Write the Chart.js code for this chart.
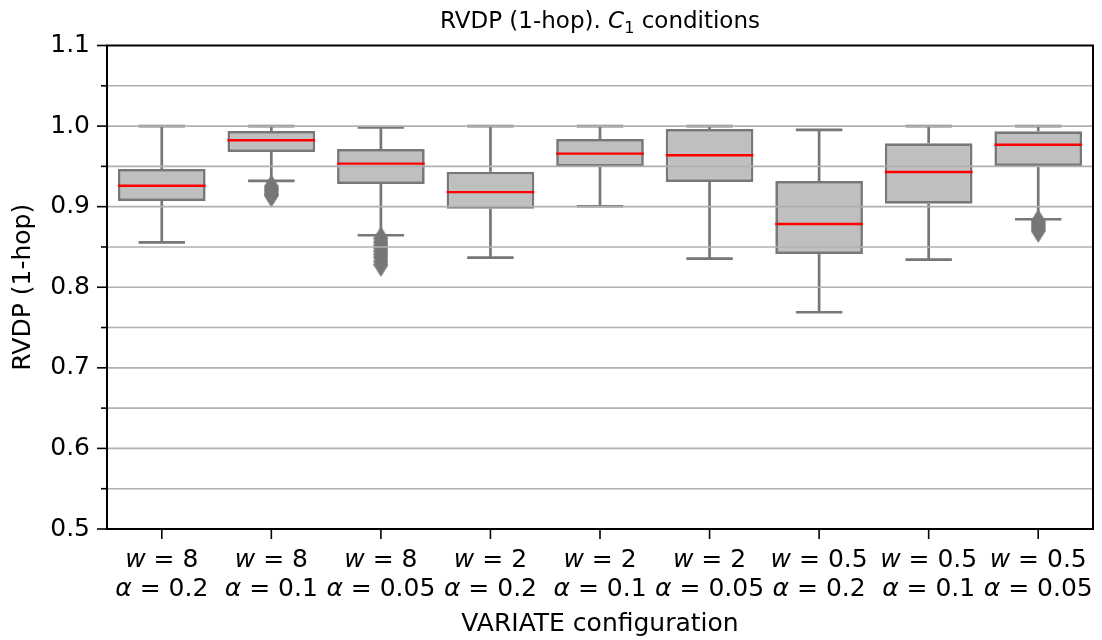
<!DOCTYPE html>
<html>
<head>
<meta charset="utf-8">
<script src="https://cdn.jsdelivr.net/npm/chart.js@4.4.1/dist/chart.umd.min.js"></script>
<style>
  html, body { margin: 0; padding: 0; background: #fff; }
  #wrap { width: 1102px; height: 640px; }
</style>
</head>
<body>
<div id="wrap"><canvas id="chart" width="1102" height="640"></canvas></div>
<script>
// categories
const wValues = ['8', '8', '8', '2', '2', '2', '0.5', '0.5', '0.5'];
const alphaValues = ['0.2', '0.1', '0.05', '0.2', '0.1', '0.05', '0.2', '0.1', '0.05'];

// box statistics
const whiskerLow  = [0.8558, 0.9319, 0.8645, 0.8367, 0.9005, 0.8355, 0.769, 0.8342, 0.8844];
const q1          = [0.907, 0.9679, 0.9282, 0.8975, 0.9496, 0.9306, 0.8413, 0.9037, 0.9505];
const median      = [0.926, 0.9824, 0.9534, 0.918, 0.9658, 0.9638, 0.8785, 0.943, 0.9769];
const q3          = [0.9468, 0.9939, 0.9716, 0.9434, 0.984, 0.9964, 0.9319, 0.9787, 0.9935];
const whiskerHigh = [1.0, 1.0, 0.9985, 1.0, 1.0, 1.0, 0.9952, 1.0, 1.0];

// outliers (box index, value)
const outlierBox   = [1, 1, 1, 1, 1, 2, 2, 2, 2, 2, 2, 2, 2, 2, 8, 8, 8, 8, 8];
const outlierValue = [0.925, 0.922, 0.919, 0.916, 0.914,
                      0.8606, 0.856, 0.852, 0.849, 0.845, 0.841, 0.837, 0.832, 0.8277,
                      0.882, 0.879, 0.876, 0.873, 0.870];

// y ticks
const yMin = 0.5, yMax = 1.1, yStep = 0.05;

const labels = wValues.map((w, i) => 'w = ' + w + ', α = ' + alphaValues[i]);
const EDGE = '#777777';
const FONT = 'DejaVu Sans';
const FS = 25;

// thin diamond marker
const diamond = document.createElement('canvas');
diamond.width = 15; diamond.height = 24;
(function () {
  const c = diamond.getContext('2d');
  c.fillStyle = EDGE;
  c.beginPath();
  c.moveTo(7.5, 0); c.lineTo(15, 12); c.lineTo(7.5, 24); c.lineTo(0, 12);
  c.closePath(); c.fill();
})();

function isMajor(v) { return Math.abs(v * 10 - Math.round(v * 10)) < 1e-6; }

const boxPlugin = {
  id: 'boxParts',
  afterDatasetsDraw(chart) {
    const ctx = chart.ctx, y = chart.scales.y;
    const meta = chart.getDatasetMeta(0);
    ctx.save();
    meta.data.forEach((bar, i) => {
      const cx = bar.x, half = bar.width / 2, cap = bar.width * 0.265;
      ctx.strokeStyle = EDGE; ctx.lineWidth = 2.7; ctx.lineCap = 'butt';
      ctx.beginPath();
      ctx.moveTo(cx, y.getPixelForValue(q3[i])); ctx.lineTo(cx, y.getPixelForValue(whiskerHigh[i]));
      ctx.moveTo(cx, y.getPixelForValue(q1[i])); ctx.lineTo(cx, y.getPixelForValue(whiskerLow[i]));
      ctx.moveTo(cx - cap, y.getPixelForValue(whiskerHigh[i])); ctx.lineTo(cx + cap, y.getPixelForValue(whiskerHigh[i]));
      ctx.moveTo(cx - cap, y.getPixelForValue(whiskerLow[i])); ctx.lineTo(cx + cap, y.getPixelForValue(whiskerLow[i]));
      ctx.stroke();
      ctx.strokeStyle = '#ff0000'; ctx.lineWidth = 2.4;
      ctx.beginPath();
      ctx.moveTo(cx - half, y.getPixelForValue(median[i])); ctx.lineTo(cx + half, y.getPixelForValue(median[i]));
      ctx.stroke();
    });
    ctx.restore();
  },
  afterDraw(chart) {
    const ctx = chart.ctx, x = chart.scales.x, y = chart.scales.y, a = chart.chartArea;
    ctx.save();
    // grid on top of the boxes
    ctx.strokeStyle = '#b0b0b0'; ctx.lineWidth = 1.6;
    y.ticks.forEach(t => {
      if (t.value <= yMin + 1e-6 || t.value >= yMax - 1e-6) return;
      const py = y.getPixelForValue(t.value);
      ctx.beginPath(); ctx.moveTo(a.left, py); ctx.lineTo(a.right, py); ctx.stroke();
    });
    // tick marks
    ctx.strokeStyle = '#000'; ctx.lineWidth = 1.6;
    y.ticks.forEach(t => {
      const py = y.getPixelForValue(t.value);
      const len = isMajor(t.value) ? 10 : 6;
      ctx.beginPath(); ctx.moveTo(a.left - len, py); ctx.lineTo(a.left, py); ctx.stroke();
    });
    x.ticks.forEach((t, i) => {
      const px = x.getPixelForTick(i);
      ctx.beginPath(); ctx.moveTo(px, a.bottom); ctx.lineTo(px, a.bottom + 10); ctx.stroke();
    });
    // spines
    ctx.lineWidth = 2;
    ctx.strokeRect(a.left, a.top, a.right - a.left, a.bottom - a.top);

    // x tick labels with italic symbols
    ctx.fillStyle = '#000'; ctx.textBaseline = 'alphabetic';
    function mixed(parts, cx, by) {
      let total = 0;
      parts.forEach(p => { ctx.font = p[1]; total += ctx.measureText(p[0]).width; });
      let px = cx - total / 2;
      ctx.textAlign = 'left';
      parts.forEach(p => { ctx.font = p[1]; ctx.fillText(p[0], px, by); px += ctx.measureText(p[0]).width; });
    }
    const reg = FS + 'px "' + FONT + '"', ita = 'italic ' + FS + 'px "' + FONT + '"';
    x.ticks.forEach((t, i) => {
      const px = x.getPixelForTick(i);
      mixed([['w', ita], [' = ' + wValues[i], reg]], px, 567);
      mixed([['α', ita], [' = ' + alphaValues[i], reg]], px, 596);
    });

    // title with italic C and subscript 1
    const tReg = '23px "' + FONT + '"', tIta = 'italic 23px "' + FONT + '"', tSub = '16px "' + FONT + '"';
    const parts = [['RVDP (1-hop). ', tReg, 0], ['C', tIta, 0], ['1', tSub, 5], [' conditions', tReg, 0]];
    let total = 0;
    parts.forEach(p => { ctx.font = p[1]; total += ctx.measureText(p[0]).width; });
    let px = (a.left + a.right) / 2 - total / 2;
    ctx.textAlign = 'left';
    parts.forEach(p => { ctx.font = p[1]; ctx.fillText(p[0], px, 28 + p[2]); px += ctx.measureText(p[0]).width; });
    ctx.restore();
  }
};

new Chart(document.getElementById('chart'), {
  type: 'bar',
  data: {
    labels: labels,
    datasets: [
      {
        label: 'box',
        data: q1.map((v, i) => [v, q3[i]]),
        backgroundColor: '#bfbfbf',
        borderColor: EDGE,
        borderWidth: 2.7,
        borderSkipped: false,
        barPercentage: 0.8,
        categoryPercentage: 1.0,
        order: 2
      },
      {
        type: 'scatter',
        label: 'outliers',
        data: outlierBox.map((b, i) => ({ x: labels[b], y: outlierValue[i] })),
        pointStyle: diamond,
        pointRadius: 8,
        order: 1
      }
    ]
  },
  options: {
    responsive: false,
    animation: false,
    layout: { padding: { top: 45.5, right: 3, left: 0, bottom: 0 } },
    plugins: { legend: { display: false }, tooltip: { enabled: false }, title: { display: false } },
    scales: {
      x: {
        type: 'category',
        offset: true,
        grid: { display: false },
        border: { display: false },
        ticks: { display: false },
        title: { display: true, text: 'VARIATE configuration', color: '#000',
                 font: { family: FONT, size: FS }, padding: { top: 0, bottom: 1 } },
        afterFit(scale) { scale.height = 111; }
      },
      y: {
        type: 'linear',
        min: yMin, max: yMax,
        grid: { display: false, drawTicks: false },
        border: { display: false },
        ticks: {
          stepSize: yStep,
          autoSkip: false,
          color: '#000',
          padding: 17,
          font: { family: FONT, size: FS },
          callback: v => isMajor(v) ? v.toFixed(1) : ''
        },
        title: { display: true, text: 'RVDP (1-hop)', color: '#000',
                 font: { family: FONT, size: FS }, padding: { top: 8, bottom: 0 } },
        afterFit(scale) { scale.width = 107; }
      }
    }
  },
  plugins: [boxPlugin]
});
</script>
</body>
</html>
